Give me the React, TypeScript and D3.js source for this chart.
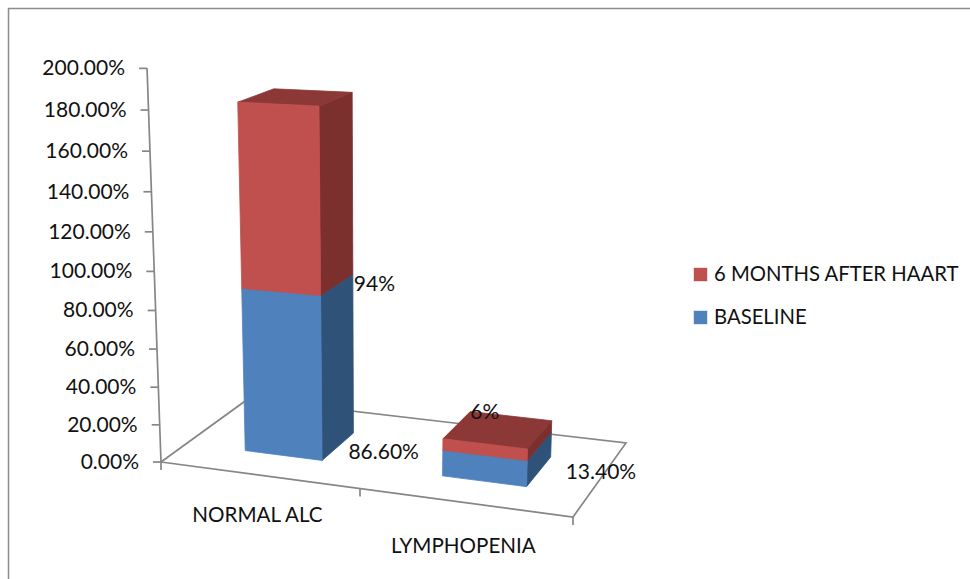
import { useEffect, useRef } from "react";
import * as d3 from "d3";

const categories = ["NORMAL ALC", "LYMPHOPENIA"];
const baseline = [86.6, 13.4];
const afterHaart = [94, 6];
const baselineLabels = ["86.60%", "13.40%"];
const afterLabels = ["94%", "6%"];
const seriesNames = ["BASELINE", "6 MONTHS AFTER HAART"];
const axisTicks = [0, 20, 40, 60, 80, 100, 120, 140, 160, 180, 200];

const font = "Lato, 'Open Sans', sans-serif";

// floor corners of the excel 3d chart: front left, front right, back right, back left
const floorQuad = [[161, 462], [573, 517], [626, 443], [248, 399]];
const vanish = [375, 6500];
const k = -0.000306;

function makeProjection() {
  const [[x0, y0], [x1, y1], [x2, y2], [x3, y3]] = floorQuad;
  const dx1 = x1 - x2, dx2 = x3 - x2, sx = x0 - x1 + x2 - x3;
  const dy1 = y1 - y2, dy2 = y3 - y2, sy = y0 - y1 + y2 - y3;
  const den = dx1 * dy2 - dx2 * dy1;
  const g = (sx * dy2 - dx2 * sy) / den;
  const h = (dx1 * sy - sx * dy1) / den;
  const a = x1 - x0 + g * x1, b = x3 - x0 + h * x3;
  const d = y1 - y0 + g * y1, e = y3 - y0 + h * y3;
  return (u: number, v: number, val: number): [number, number] => {
    const w = g * u + h * v + 1;
    const t = k * val;
    const X = a * u + b * v + x0 + t * vanish[0];
    const Y = d * u + e * v + y0 + t * vanish[1];
    return [X / (w + t), Y / (w + t)];
  };
}

export default function App() {
  const svgRef = useRef<SVGSVGElement | null>(null);

  useEffect(() => {
    document.body.style.margin = "0";
    const svg = d3.select(svgRef.current);
    svg.selectAll("*").remove();
    svg.attr("width", 970).attr("height", 579).style("display", "block").style("background", "#fff");

    const project = makeProjection();
    const line = d3.line();
    const gray = "#868686";

    // outer frame, only top and left survive in the picture
    svg.append("path").attr("d", "M8.5,579V8.5H970").attr("fill", "none").attr("stroke", "#8c8c8c").attr("stroke-width", 1.5);

    const band = d3.scaleBand<string>().domain(categories).range([0.006, 1.006]).paddingInner(0.6).paddingOuter(0.3);
    const depth = d3.scaleLinear().domain([0, 1]).range([0.28, 0.69]);

    // floor
    svg.append("path")
      .attr("d", line([project(0, 0, 0), project(1, 0, 0), project(1, 1, 0), project(0, 1, 0)]) + "Z")
      .attr("fill", "none").attr("stroke", gray).attr("stroke-width", 1.7);

    // value axis
    svg.append("path")
      .attr("d", line([project(0, 0, 0), project(0, 0, 200)]))
      .attr("fill", "none").attr("stroke", gray).attr("stroke-width", 1.7);
    axisTicks.forEach(t => {
      const [x, y] = project(0, 0, t);
      svg.append("line").attr("x1", x - 8).attr("x2", x).attr("y1", y).attr("y2", y)
        .attr("stroke", gray).attr("stroke-width", 1.7);
      svg.append("text").attr("x", x - 22).attr("y", y + 7).attr("text-anchor", "end")
        .attr("font-family", font).attr("font-size", 21).attr("fill", "#111")
        .text(d3.format(".2f")(t) + "%");
    });

    // category axis ticks
    [0, 0.506, 1].forEach(u => {
      const [x, y] = project(u, 0, 0);
      svg.append("line").attr("x1", x).attr("x2", x).attr("y1", y).attr("y2", y + 8)
        .attr("stroke", gray).attr("stroke-width", 1.7);
    });

    const rows = categories.map((c, i) => ({ category: c, baseline: baseline[i], after: afterHaart[i] }));
    const stacked = d3.stack<any>().keys(["baseline", "after"])(rows);
    const colors = [
      { front: "#4f81bd", side: "#2f5279", top: "#3c6594" },
      { front: "#c0504d", side: "#7c302e", top: "#8c3836" },
    ];

    stacked.forEach((layer, si) => {
      layer.forEach((seg, ci) => {
        const u0 = band(categories[ci])!;
        const u1 = u0 + band.bandwidth();
        const v0 = depth(0), v1 = depth(1);
        const [lo, hi] = seg;
        const c = colors[si];
        const face = (pts: [number, number][], fill: string) =>
          svg.append("path").attr("d", line(pts) + "Z").attr("fill", fill).attr("stroke", fill).attr("stroke-width", 0.8).attr("stroke-linejoin", "round");
        face([project(u1, v0, lo), project(u1, v1, lo), project(u1, v1, hi), project(u1, v0, hi)], c.side);
        face([project(u0, v0, hi), project(u1, v0, hi), project(u1, v1, hi), project(u0, v1, hi)], c.top);
        face([project(u0, v0, lo), project(u1, v0, lo), project(u1, v0, hi), project(u0, v0, hi)], c.front);
      });
    });

    // data labels, offset from the corner of their own segment
    const label = (x: number, y: number, s: string) =>
      svg.append("text").attr("x", x).attr("y", y).attr("font-family", font).attr("font-size", 21).attr("fill", "#111").text(s);
    const uRight = (i: number) => band(categories[i])! + band.bandwidth();
    const [bx0, by0] = project(uRight(0), depth(1), 0);
    label(bx0 - 5, by0 + 26, baselineLabels[0]);
    const [ax0, ay0] = project(uRight(0), depth(1), baseline[0]);
    label(ax0 + 1, ay0 + 17, afterLabels[0]);
    const [bx1, by1] = project(uRight(1), depth(1), 0);
    label(bx1 + 15, by1 + 22, baselineLabels[1]);
    const [ax1, ay1] = project(band(categories[1])!, depth(1), baseline[1] + afterHaart[1]);
    label(ax1, ay1 + 7, afterLabels[1]);

    // category labels
    categories.forEach((c, i) => {
      const [x, y] = project(band(c)! + band.bandwidth() / 2, 0, 0);
      svg.append("text").attr("x", x - 2).attr("y", y + 47 + i * 3).attr("text-anchor", "middle")
        .attr("font-family", font).attr("font-size", 20.6).attr("fill", "#111").text(c);
    });

    // legend, top entry is the last series
    const legend = [
      { name: seriesNames[1], color: colors[1].front },
      { name: seriesNames[0], color: colors[0].front },
    ];
    legend.forEach((l, i) => {
      const g = svg.append("g").attr("transform", `translate(694,${268 + i * 43})`);
      g.append("rect").attr("width", 13).attr("height", 13).attr("fill", l.color).attr("stroke", l.color).attr("stroke-opacity", 0.4);
      g.append("text").attr("x", 20).attr("y", 13).attr("font-family", font).attr("font-size", 20.3).attr("fill", "#111").text(l.name);
    });
  }, []);

  return <svg ref={svgRef}></svg>;
}
